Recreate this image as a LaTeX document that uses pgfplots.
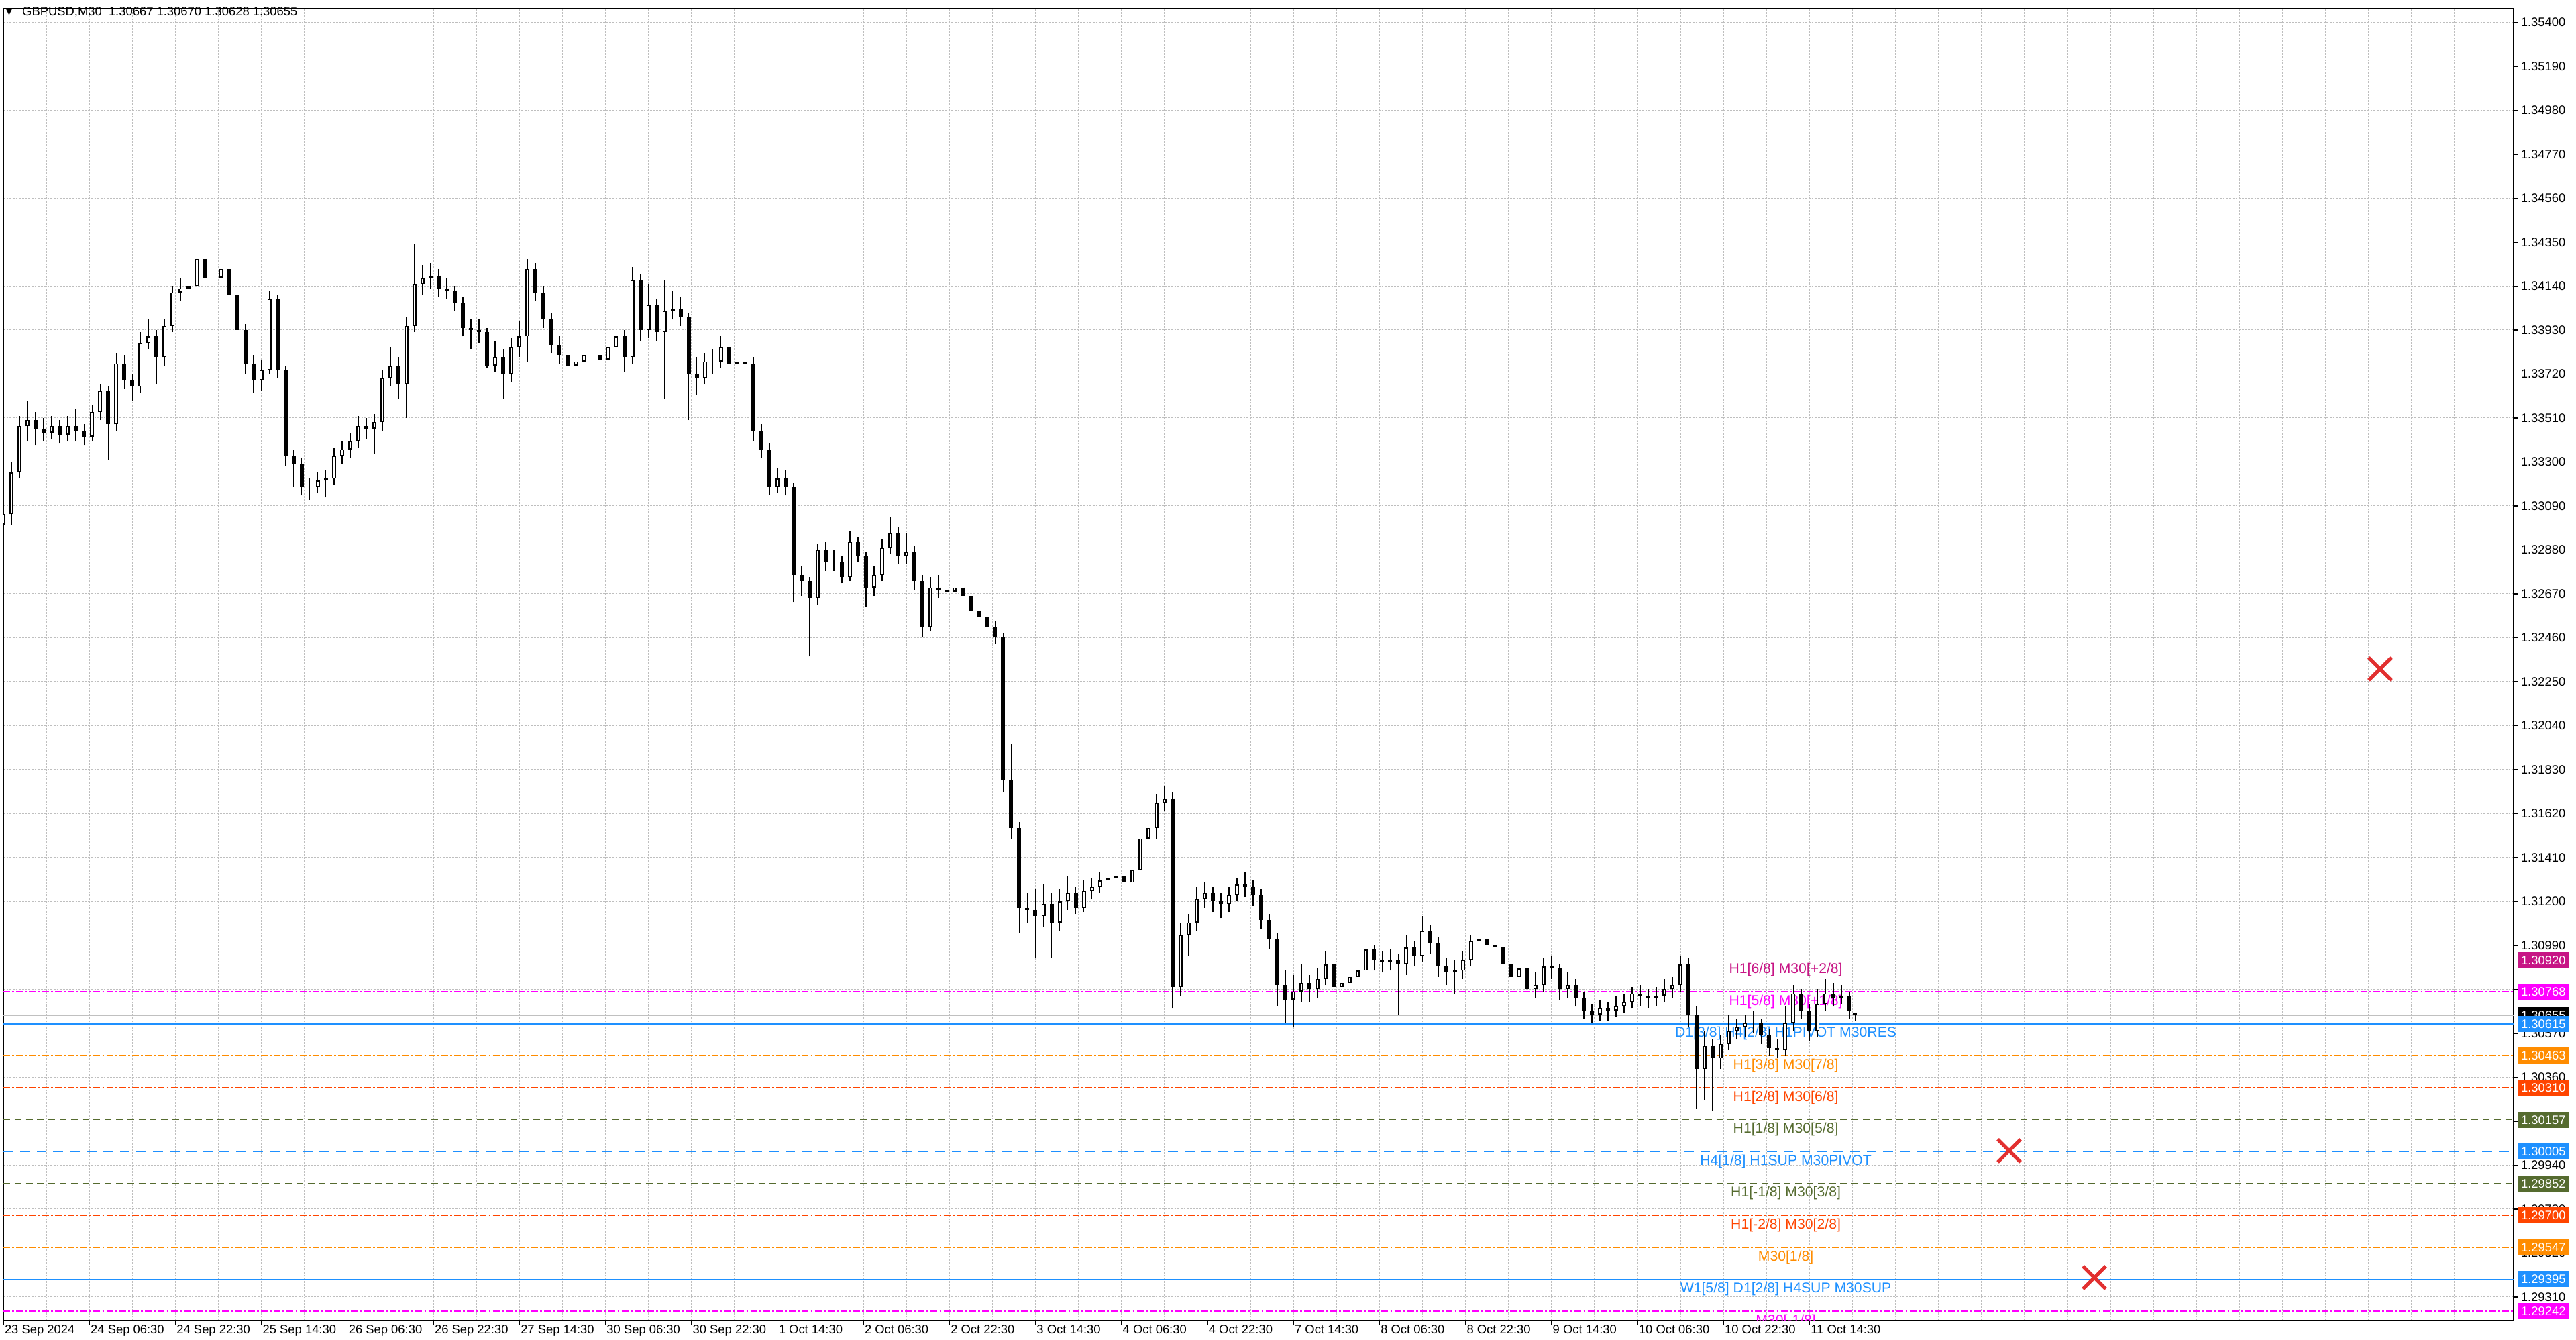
\documentclass[border=0pt]{standalone}
\usepackage{pgfplots}
\pgfplotsset{compat=1.18}
\usepackage{pgfplotstable}
\usepackage{fontspec}
\setmainfont{Liberation Sans}
\newfontfamily\dejavu{DejaVu Sans}

\definecolor{mvred}{RGB}{199,21,133}
\definecolor{mmag}{RGB}{255,0,255}
\definecolor{dblue}{RGB}{30,144,255}
\definecolor{dorange}{RGB}{255,140,0}
\definecolor{ored}{RGB}{255,69,0}
\definecolor{dolive}{RGB}{85,107,47}
\definecolor{gridgray}{RGB}{190,190,190}
\definecolor{bidgray}{RGB}{192,192,192}
\definecolor{xred}{RGB}{226,48,48}

\newcommand\tickfont{\fontsize{4.6}{5.2}\selectfont}
\newcommand\lvlfont{\fontsize{5.3}{6}\selectfont}

% GBPUSD M30, every third bar, x = bar number from the left edge
\pgfplotstableread{
x o h l c
0 1.3300 1.3312 1.3296 1.3305
3 1.3305 1.3330 1.3300 1.3325
6 1.3325 1.3352 1.3322 1.3347
9 1.3347 1.3359 1.3340 1.3350
12 1.3350 1.3354 1.3338 1.3346
15 1.3346 1.3351 1.3340 1.3344
18 1.3344 1.3352 1.3341 1.3347
21 1.3347 1.3350 1.3339 1.3343
24 1.3343 1.3352 1.3340 1.3347
27 1.3347 1.3355 1.3340 1.3345
30 1.3345 1.3348 1.3338 1.3342
33 1.3342 1.3357 1.3340 1.3354
36 1.3354 1.3367 1.3350 1.3364
39 1.3364 1.3366 1.3331 1.3348
42 1.3348 1.3382 1.3345 1.3377
45 1.3377 1.3381 1.3365 1.3369
48 1.3369 1.3372 1.3359 1.3366
51 1.3366 1.3392 1.3363 1.3387
54 1.3387 1.3398 1.3384 1.3390
57 1.3390 1.3393 1.3367 1.3380
60 1.3380 1.3398 1.3376 1.3395
63 1.3395 1.3414 1.3392 1.3411
66 1.3411 1.3418 1.3407 1.3413
69 1.3413 1.3417 1.3408 1.3414
72 1.3414 1.3430 1.3411 1.3427
75 1.3427 1.3429 1.3414 1.3418
78 1.3418 1.3421 1.3411 1.3418
81 1.3418 1.3425 1.3415 1.3422
84 1.3422 1.3424 1.3406 1.3410
87 1.3410 1.3413 1.3389 1.3393
90 1.3393 1.3396 1.3372 1.3377
93 1.3377 1.3381 1.3363 1.3369
96 1.3369 1.3379 1.3364 1.3374
99 1.3374 1.3412 1.3372 1.3408
102 1.3408 1.3410 1.3370 1.3374
105 1.3374 1.3376 1.3328 1.3333
108 1.3333 1.3336 1.3318 1.3329
111 1.3329 1.3332 1.3314 1.3318
114 1.3318 1.3322 1.3312 1.3318
117 1.3318 1.3325 1.3315 1.3321
120 1.3321 1.3326 1.3313 1.3322
123 1.3322 1.3337 1.3319 1.3333
126 1.3333 1.3340 1.3329 1.3336
129 1.3336 1.3344 1.3332 1.3340
132 1.3340 1.3352 1.3337 1.3347
135 1.3347 1.3351 1.3341 1.3346
138 1.3346 1.3353 1.3334 1.3349
141 1.3349 1.3374 1.3345 1.3370
144 1.3370 1.3385 1.3366 1.3376
147 1.3376 1.3380 1.3360 1.3367
150 1.3367 1.3399 1.3351 1.3395
153 1.3395 1.3434 1.3392 1.3415
156 1.3415 1.3424 1.3410 1.3418
159 1.3418 1.3425 1.3413 1.3419
162 1.3419 1.3422 1.3409 1.3413
165 1.3413 1.3418 1.3408 1.3412
168 1.3412 1.3414 1.3402 1.3406
171 1.3406 1.3409 1.3390 1.3394
174 1.3394 1.3398 1.3384 1.3393
177 1.3393 1.3398 1.3387 1.3392
180 1.3392 1.3394 1.3375 1.3376
183 1.3376 1.3388 1.3373 1.3380
186 1.3380 1.3384 1.3360 1.3372
189 1.3372 1.3389 1.3368 1.3385
192 1.3385 1.3397 1.3380 1.3390
195 1.3390 1.3427 1.3378 1.3422
198 1.3422 1.3425 1.3407 1.3411
201 1.3411 1.3414 1.3394 1.3398
204 1.3398 1.3401 1.3382 1.3386
207 1.3386 1.3390 1.3377 1.3381
210 1.3381 1.3385 1.3372 1.3376
213 1.3376 1.3382 1.3371 1.3378
216 1.3378 1.3385 1.3374 1.3381
219 1.3381 1.3386 1.3377 1.3381
222 1.3381 1.3389 1.3372 1.3379
225 1.3379 1.3388 1.3375 1.3385
228 1.3385 1.3396 1.3382 1.3390
231 1.3390 1.3393 1.3373 1.3380
234 1.3380 1.3423 1.3377 1.3417
237 1.3417 1.3420 1.3388 1.3393
240 1.3393 1.3415 1.3389 1.3405
243 1.3405 1.3408 1.3388 1.3392
246 1.3392 1.3417 1.3360 1.3402
249 1.3402 1.3412 1.3398 1.3403
252 1.3403 1.3409 1.3395 1.3399
255 1.3399 1.3401 1.3350 1.3372
258 1.3372 1.3380 1.3362 1.3370
261 1.3370 1.3382 1.3367 1.3378
264 1.3378 1.3384 1.3372 1.3378
267 1.3378 1.3390 1.3375 1.3385
270 1.3385 1.3388 1.3372 1.3377
273 1.3377 1.3383 1.3367 1.3378
276 1.3378 1.3386 1.3372 1.3377
279 1.3377 1.3380 1.3340 1.3345
282 1.3345 1.3348 1.3332 1.3336
285 1.3336 1.3339 1.3314 1.3318
288 1.3318 1.3327 1.3315 1.3322
291 1.3322 1.3326 1.3314 1.3318
294 1.3318 1.3320 1.3263 1.3276
297 1.3276 1.3280 1.3266 1.3273
300 1.3273 1.3275 1.3237 1.3265
303 1.3265 1.3291 1.3262 1.3288
306 1.3288 1.3292 1.3278 1.3282
309 1.3282 1.3288 1.3278 1.3282
312 1.3282 1.3285 1.3272 1.3275
315 1.3275 1.3297 1.3273 1.3292
318 1.3292 1.3294 1.3282 1.3285
321 1.3285 1.3287 1.3261 1.3270
324 1.3270 1.3280 1.3266 1.3276
327 1.3276 1.3293 1.3273 1.3289
330 1.3289 1.3304 1.3286 1.3296
333 1.3296 1.3299 1.3281 1.3285
336 1.3285 1.3296 1.3281 1.3287
339 1.3287 1.3290 1.3269 1.3273
342 1.3273 1.3276 1.3246 1.3251
345 1.3251 1.3275 1.3249 1.3270
348 1.3270 1.3276 1.3265 1.3269
351 1.3269 1.3273 1.3262 1.3268
354 1.3268 1.3275 1.3265 1.3270
357 1.3270 1.3274 1.3263 1.3266
360 1.3266 1.3269 1.3256 1.3259
363 1.3259 1.3262 1.3253 1.3256
366 1.3256 1.3259 1.3248 1.3251
369 1.3251 1.3254 1.3243 1.3246
372 1.3246 1.3248 1.3172 1.3178
375 1.3178 1.3195 1.3150 1.3155
378 1.3155 1.3158 1.3105 1.3117
381 1.3117 1.3124 1.3110 1.3116
384 1.3116 1.3126 1.3093 1.3113
387 1.3113 1.3128 1.3108 1.3119
390 1.3119 1.3124 1.3093 1.3110
393 1.3110 1.3126 1.3106 1.3120
396 1.3120 1.3132 1.3116 1.3124
399 1.3124 1.3127 1.3114 1.3117
402 1.3117 1.3130 1.3115 1.3125
405 1.3125 1.3131 1.3121 1.3127
408 1.3127 1.3134 1.3124 1.3130
411 1.3130 1.3136 1.3126 1.3131
414 1.3131 1.3137 1.3124 1.3132
417 1.3132 1.3135 1.3122 1.3129
420 1.3129 1.3139 1.3126 1.3135
423 1.3135 1.3156 1.3133 1.3150
426 1.3150 1.3166 1.3145 1.3155
429 1.3155 1.3171 1.3150 1.3167
432 1.3167 1.3175 1.3163 1.3169
435 1.3169 1.3172 1.3069 1.3079
438 1.3079 1.3110 1.3075 1.3104
441 1.3104 1.3114 1.3094 1.3110
444 1.3110 1.3127 1.3106 1.3121
447 1.3121 1.3129 1.3117 1.3124
450 1.3124 1.3127 1.3115 1.3120
453 1.3120 1.3124 1.3112 1.3119
456 1.3119 1.3127 1.3115 1.3123
459 1.3123 1.3131 1.3120 1.3128
462 1.3128 1.3134 1.3122 1.3127
465 1.3127 1.3130 1.3118 1.3123
468 1.3123 1.3126 1.3107 1.3111
471 1.3111 1.3114 1.3097 1.3102
474 1.3102 1.3105 1.3070 1.3080
477 1.3080 1.3087 1.3062 1.3073
480 1.3073 1.3085 1.3060 1.3077
483 1.3077 1.3090 1.3072 1.3081
486 1.3081 1.3085 1.3072 1.3078
489 1.3078 1.3088 1.3074 1.3083
492 1.3083 1.3096 1.3080 1.3090
495 1.3090 1.3093 1.3074 1.3079
498 1.3079 1.3086 1.3075 1.3081
501 1.3081 1.3088 1.3077 1.3084
504 1.3084 1.3091 1.3080 1.3087
507 1.3087 1.3100 1.3084 1.3097
510 1.3097 1.3099 1.3087 1.3092
513 1.3092 1.3096 1.3086 1.3091
516 1.3091 1.3097 1.3087 1.3092
519 1.3092 1.3095 1.3066 1.3090
522 1.3090 1.3104 1.3085 1.3098
525 1.3098 1.3101 1.3089 1.3094
528 1.3094 1.3113 1.3091 1.3106
531 1.3106 1.3109 1.3095 1.3100
534 1.3100 1.3103 1.3084 1.3089
537 1.3089 1.3093 1.3080 1.3086
540 1.3086 1.3092 1.3076 1.3087
543 1.3087 1.3096 1.3083 1.3092
546 1.3092 1.3104 1.3089 1.3101
549 1.3101 1.3105 1.3096 1.3102
552 1.3102 1.3104 1.3094 1.3099
555 1.3099 1.3102 1.3093 1.3098
558 1.3098 1.3100 1.3086 1.3090
561 1.3090 1.3093 1.3079 1.3084
564 1.3084 1.3095 1.3080 1.3088
567 1.3088 1.3091 1.3055 1.3078
570 1.3078 1.3086 1.3074 1.3080
573 1.3080 1.3093 1.3077 1.3089
576 1.3089 1.3094 1.3083 1.3088
579 1.3088 1.3090 1.3073 1.3078
582 1.3078 1.3086 1.3074 1.3080
585 1.3080 1.3083 1.3070 1.3074
588 1.3074 1.3077 1.3064 1.3068
591 1.3068 1.3071 1.3062 1.3066
594 1.3066 1.3073 1.3063 1.3069
597 1.3069 1.3072 1.3063 1.3068
600 1.3068 1.3075 1.3065 1.3070
603 1.3070 1.3076 1.3067 1.3072
606 1.3072 1.3079 1.3069 1.3076
609 1.3076 1.3080 1.3070 1.3075
612 1.3075 1.3078 1.3069 1.3074
615 1.3074 1.3079 1.3070 1.3075
618 1.3075 1.3083 1.3072 1.3078
621 1.3078 1.3084 1.3074 1.3080
624 1.3080 1.3094 1.3077 1.3090
627 1.3090 1.3093 1.3060 1.3066
630 1.3066 1.3070 1.3021 1.3040
633 1.3040 1.3058 1.3025 1.3051
636 1.3051 1.3054 1.3020 1.3045
639 1.3045 1.3056 1.3040 1.3052
642 1.3052 1.3066 1.3049 1.3058
645 1.3058 1.3064 1.3054 1.3060
648 1.3060 1.3066 1.3055 1.3062
651 1.3062 1.3068 1.3057 1.3062
654 1.3062 1.3064 1.3052 1.3056
657 1.3056 1.3059 1.3046 1.3050
660 1.3050 1.3054 1.3045 1.3049
663 1.3049 1.3070 1.3046 1.3062
666 1.3062 1.3080 1.3058 1.3076
669 1.3076 1.3078 1.3064 1.3068
672 1.3068 1.3071 1.3053 1.3058
675 1.3058 1.3078 1.3055 1.3071
678 1.3071 1.3083 1.3068 1.3076
681 1.3076 1.3081 1.3070 1.3074
684 1.3074 1.3080 1.3071 1.3075
687 1.3075 1.3077 1.3064 1.3068
689 1.30667 1.30670 1.30628 1.30655
}\candles

\begin{document}
\begin{tikzpicture}[x=1pt,y=1pt]
\useasboundingbox (0,0) rectangle (960,499);
\begin{axis}[
    at={(1.25,9)}, anchor=south west,
    scale only axis, width=935.5pt, height=488.75pt,
    xmin=0, xmax=934, ymin=1.291977, ymax=1.354657,
    axis line style={line width=0.4pt, black},
    xtick={0,32,...,672},
    xticklabels={23 Sep 2024, 24 Sep 06:30, 24 Sep 22:30, 25 Sep 14:30, 26 Sep 06:30, 26 Sep 22:30, 27 Sep 14:30, 30 Sep 06:30, 30 Sep 22:30, 1 Oct 14:30, 2 Oct 06:30, 2 Oct 22:30, 3 Oct 14:30, 4 Oct 06:30, 4 Oct 22:30, 7 Oct 14:30, 8 Oct 06:30, 8 Oct 22:30, 9 Oct 14:30, 10 Oct 06:30, 10 Oct 22:30, 11 Oct 14:30},
    minor xtick={16,32,...,928},
    ytick={1.354,1.3519,1.3498,1.3477,1.3456,1.3435,1.3414,1.3393,1.3372,1.3351,1.3330,1.3309,1.3288,1.3267,1.3246,1.3225,1.3204,1.3183,1.3162,1.3141,1.3120,1.3099,1.3078,1.3057,1.3036,1.3015,1.2994,1.2973,1.2952,1.2931},
    yticklabels={1.35400,1.35190,1.34980,1.34770,1.34560,1.34350,1.34140,1.33930,1.33720,1.33510,1.33300,1.33090,1.32880,1.32670,1.32460,1.32250,1.32040,1.31830,1.31620,1.31410,1.31200,1.30990,1.30780,1.30570,1.30360,1.30150,1.29940,1.29730,1.29520,1.29310},
    scaled y ticks=false,
    xtick pos=left, ytick pos=right, yticklabel pos=right,
    tick align=outside, major tick length=1.5pt, minor tick length=0pt,
    tick style={line width=0.3pt, black},
    xmajorgrids, xminorgrids, ymajorgrids,
    grid style={gridgray, line width=0.25pt, dash pattern=on 0.67pt off 0.5pt},
    minor grid style={gridgray, line width=0.25pt, dash pattern=on 0.67pt off 0.5pt},
    xticklabel style={anchor=north west, inner sep=0pt, xshift=0.3pt, yshift=0pt, font=\tickfont},
    yticklabel style={anchor=west, inner sep=0pt, xshift=1pt, font=\tickfont},
]

% Murrey math levels
\addplot[mvred, line width=0.35pt, dash pattern=on 2.5pt off 0.8pt on 0.7pt off 0.8pt] coordinates {(0,1.30920) (934,1.30920)};
\addplot[mmag, line width=0.35pt, dash pattern=on 2.5pt off 0.8pt on 0.7pt off 0.8pt] coordinates {(0,1.30768) (934,1.30768)};
\addplot[bidgray, line width=0.35pt] coordinates {(0,1.30655) (934,1.30655)};
\addplot[dblue, line width=0.35pt] coordinates {(0,1.30615) (934,1.30615)};
\addplot[dorange, line width=0.35pt, dash pattern=on 2.5pt off 0.8pt on 0.7pt off 0.8pt] coordinates {(0,1.30463) (934,1.30463)};
\addplot[ored, line width=0.35pt, dash pattern=on 2.5pt off 0.8pt on 0.7pt off 0.8pt] coordinates {(0,1.30310) (934,1.30310)};
\addplot[dolive, line width=0.35pt, dash pattern=on 2.5pt off 1.7pt] coordinates {(0,1.30157) (934,1.30157)};
\addplot[dblue, line width=0.35pt, dash pattern=on 3.7pt off 2.5pt] coordinates {(0,1.30005) (934,1.30005)};
\addplot[dolive, line width=0.35pt, dash pattern=on 2.5pt off 1.7pt] coordinates {(0,1.29852) (934,1.29852)};
\addplot[ored, line width=0.35pt, dash pattern=on 2.5pt off 0.8pt on 0.7pt off 0.8pt] coordinates {(0,1.29700) (934,1.29700)};
\addplot[dorange, line width=0.35pt, dash pattern=on 2.5pt off 0.8pt on 0.7pt off 0.8pt] coordinates {(0,1.29547) (934,1.29547)};
\addplot[dblue, line width=0.35pt] coordinates {(0,1.29395) (934,1.29395)};
\addplot[mmag, line width=0.35pt, dash pattern=on 2.5pt off 0.8pt on 0.7pt off 0.8pt] coordinates {(0,1.29242) (934,1.29242)};

\begin{scope}[every node/.style={anchor=base, inner sep=0pt, font=\lvlfont, yshift=-5pt}]
\node[text=mvred] at (axis cs:663.2,1.30920) {H1[6/8] M30[+2/8]};
\node[text=mmag] at (axis cs:663.2,1.30768) {H1[5/8] M30[+1/8]};
\node[text=dblue] at (axis cs:663.2,1.30615) {D1[3/8] H4[2/8] H1PIVOT M30RES};
\node[text=dorange] at (axis cs:663.2,1.30463) {H1[3/8] M30[7/8]};
\node[text=ored] at (axis cs:663.2,1.30310) {H1[2/8] M30[6/8]};
\node[text=dolive] at (axis cs:663.2,1.30157) {H1[1/8] M30[5/8]};
\node[text=dblue] at (axis cs:663.2,1.30005) {H4[1/8] H1SUP M30PIVOT};
\node[text=dolive] at (axis cs:663.2,1.29852) {H1[-1/8] M30[3/8]};
\node[text=ored] at (axis cs:663.2,1.29700) {H1[-2/8] M30[2/8]};
\node[text=dorange] at (axis cs:663.2,1.29547) {M30[1/8]};
\node[text=dblue] at (axis cs:663.2,1.29395) {W1[5/8] D1[2/8] H4SUP M30SUP};
\node[text=mmag] at (axis cs:663.2,1.29242) {M30[-1/8]};
\end{scope}

% candles: wick from low to high, body from open to close, hollow bull bodies
\addplot[black, line width=0.35pt, line cap=butt, mark=none, quiver={u=0, v=\thisrow{h}-\thisrow{l}}]
    table[x=x, y=l] {\candles};
\addplot[black, line width=1.5pt, line cap=butt, mark=none, quiver={u=0, v=\thisrow{c}-\thisrow{o}}]
    table[x=x, y=o] {\candles};
\addplot[white, line width=0.6pt, line cap=butt, mark=none, quiver={u=0, v={max(\thisrow{c}-\thisrow{o}-0.0001,0)}}]
    table[x=x, y expr=\thisrow{o}+0.00005] {\candles};

% stop marks
\addplot[only marks, mark=x, mark size=6pt, mark options={xred, line width=1.3pt}]
    coordinates {(884.3,1.32311) (746.3,1.30009) (778,1.29403)};

\coordinate (b1) at (axis cs:934,1.30920);
\coordinate (b2) at (axis cs:934,1.30768);
\coordinate (b3) at (axis cs:934,1.30655);
\coordinate (b4) at (axis cs:934,1.30615);
\coordinate (b5) at (axis cs:934,1.30463);
\coordinate (b6) at (axis cs:934,1.30310);
\coordinate (b7) at (axis cs:934,1.30157);
\coordinate (b8) at (axis cs:934,1.30005);
\coordinate (b9) at (axis cs:934,1.29852);
\coordinate (b10) at (axis cs:934,1.29700);
\coordinate (b11) at (axis cs:934,1.29547);
\coordinate (b12) at (axis cs:934,1.29395);
\coordinate (b13) at (axis cs:934,1.29242);
\end{axis}

\begin{scope}[every node/.style={anchor=west, inner sep=0pt, minimum width=19.25pt, minimum height=6pt, xshift=1.25pt, text=white, font=\tickfont}]
\node[fill=mvred] at (b1) {1.30920};
\node[fill=mmag] at (b2) {1.30768};
\node[fill=black] at (b3) {1.30655};
\node[fill=dblue] at (b4) {1.30615};
\node[fill=dorange] at (b5) {1.30463};
\node[fill=ored] at (b6) {1.30310};
\node[fill=dolive] at (b7) {1.30157};
\node[fill=dblue] at (b8) {1.30005};
\node[fill=dolive] at (b9) {1.29852};
\node[fill=ored] at (b10) {1.29700};
\node[fill=dorange] at (b11) {1.29547};
\node[fill=dblue] at (b12) {1.29395};
\node[fill=mmag] at (b13) {1.29242};
\end{scope}

\node[inner sep=0pt, font=\dejavu\fontsize{3.4}{4}\selectfont] at (3.4,494.4) {▼};
\node[anchor=west, inner sep=0pt, font=\tickfont] at (8.1,494.4) {GBPUSD,M30\ \ 1.30667 1.30670 1.30628 1.30655};
\end{tikzpicture}
\end{document}
